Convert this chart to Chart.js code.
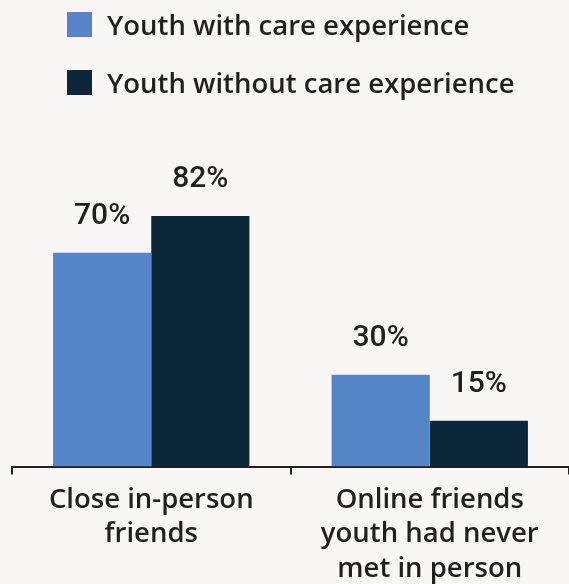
<!DOCTYPE html>
<html>
<head>
<meta charset="utf-8">
<script src="https://cdn.jsdelivr.net/npm/chart.js@4"></script>
<style>
    html, body { margin: 0; padding: 0; background: #faf6f5; }
    #wrap { position: relative; width: 569px; height: 584px; }
    #legend { position: absolute; left: 67px; top: 12px; }
    .item { display: flex; align-items: center; height: 25px; margin-bottom: 33px; }
    .box { width: 25px; height: 25px; margin-right: 15px; }
    .txt { font-family: 'Open Sans', sans-serif; font-weight: 600; font-size: 27.5px; color: #231f20; white-space: nowrap; }
    canvas { position: absolute; left: 0; top: 0; }
</style>
</head>
<body>
<div id="wrap">
    <canvas id="chart" width="569" height="584"></canvas>
    <div id="legend"></div>
</div>
<script>
var categories = [['Close in-person', 'friends'], ['Online friends', 'youth had never', 'met in person']];
var seriesNames = ['Youth with care experience', 'Youth without care experience'];
var withCare = [70, 30];
var withoutCare = [82, 15];
var COLORS = ['#5585c6', '#0b2739'];
var INK = '#231f20';

// legend built from the same names/colours
var legend = document.getElementById('legend');
seriesNames.forEach(function(name, i) {
    var row = document.createElement('div');
    row.className = 'item';
    row.innerHTML = '<div class="box" style="background:' + COLORS[i] + '"></div><div class="txt">' + name + '</div>';
    legend.appendChild(row);
});

var valueLabels = {
    id: 'valueLabels',
    afterDatasetsDraw: function(chart) {
        var ctx = chart.ctx;
        ctx.save();
        ctx.font = '500 30px Roboto, sans-serif';
        ctx.fillStyle = INK;
        ctx.textAlign = 'center';
        ctx.textBaseline = 'alphabetic';
        chart.data.datasets.forEach(function(ds, i) {
            chart.getDatasetMeta(i).data.forEach(function(bar, j) {
                ctx.fillText(ds.data[j] + '%', bar.x, bar.y - 29);
            });
        });
        ctx.restore();
    }
};

new Chart(document.getElementById('chart'), {
    type: 'bar',
    data: {
        labels: categories,
        datasets: [
            { label: seriesNames[0], data: withCare, backgroundColor: COLORS[0], borderWidth: 0 },
            { label: seriesNames[1], data: withoutCare, backgroundColor: COLORS[1], borderWidth: 0 }
        ]
    },
    options: {
        responsive: false,
        animation: false,
        devicePixelRatio: 1,
        layout: { padding: { top: 161, left: 12, right: -5, bottom: -10 } },
        plugins: { legend: { display: false }, tooltip: { enabled: false } },
        datasets: { bar: { barPercentage: 1, categoryPercentage: 0.705 } },
        scales: {
            x: {
                border: { display: true, color: INK, width: 2 },
                grid: { offset: true, drawOnChartArea: false, drawTicks: true, tickLength: 8, color: INK, lineWidth: 2 },
                ticks: { color: INK, padding: 8, maxRotation: 0, font: { family: 'Open Sans', weight: '600', size: 27.5, lineHeight: '34.5px' } }
            },
            y: { display: false, min: 0, max: 100 }
        }
    },
    plugins: [valueLabels]
});
</script>
</body>
</html>
